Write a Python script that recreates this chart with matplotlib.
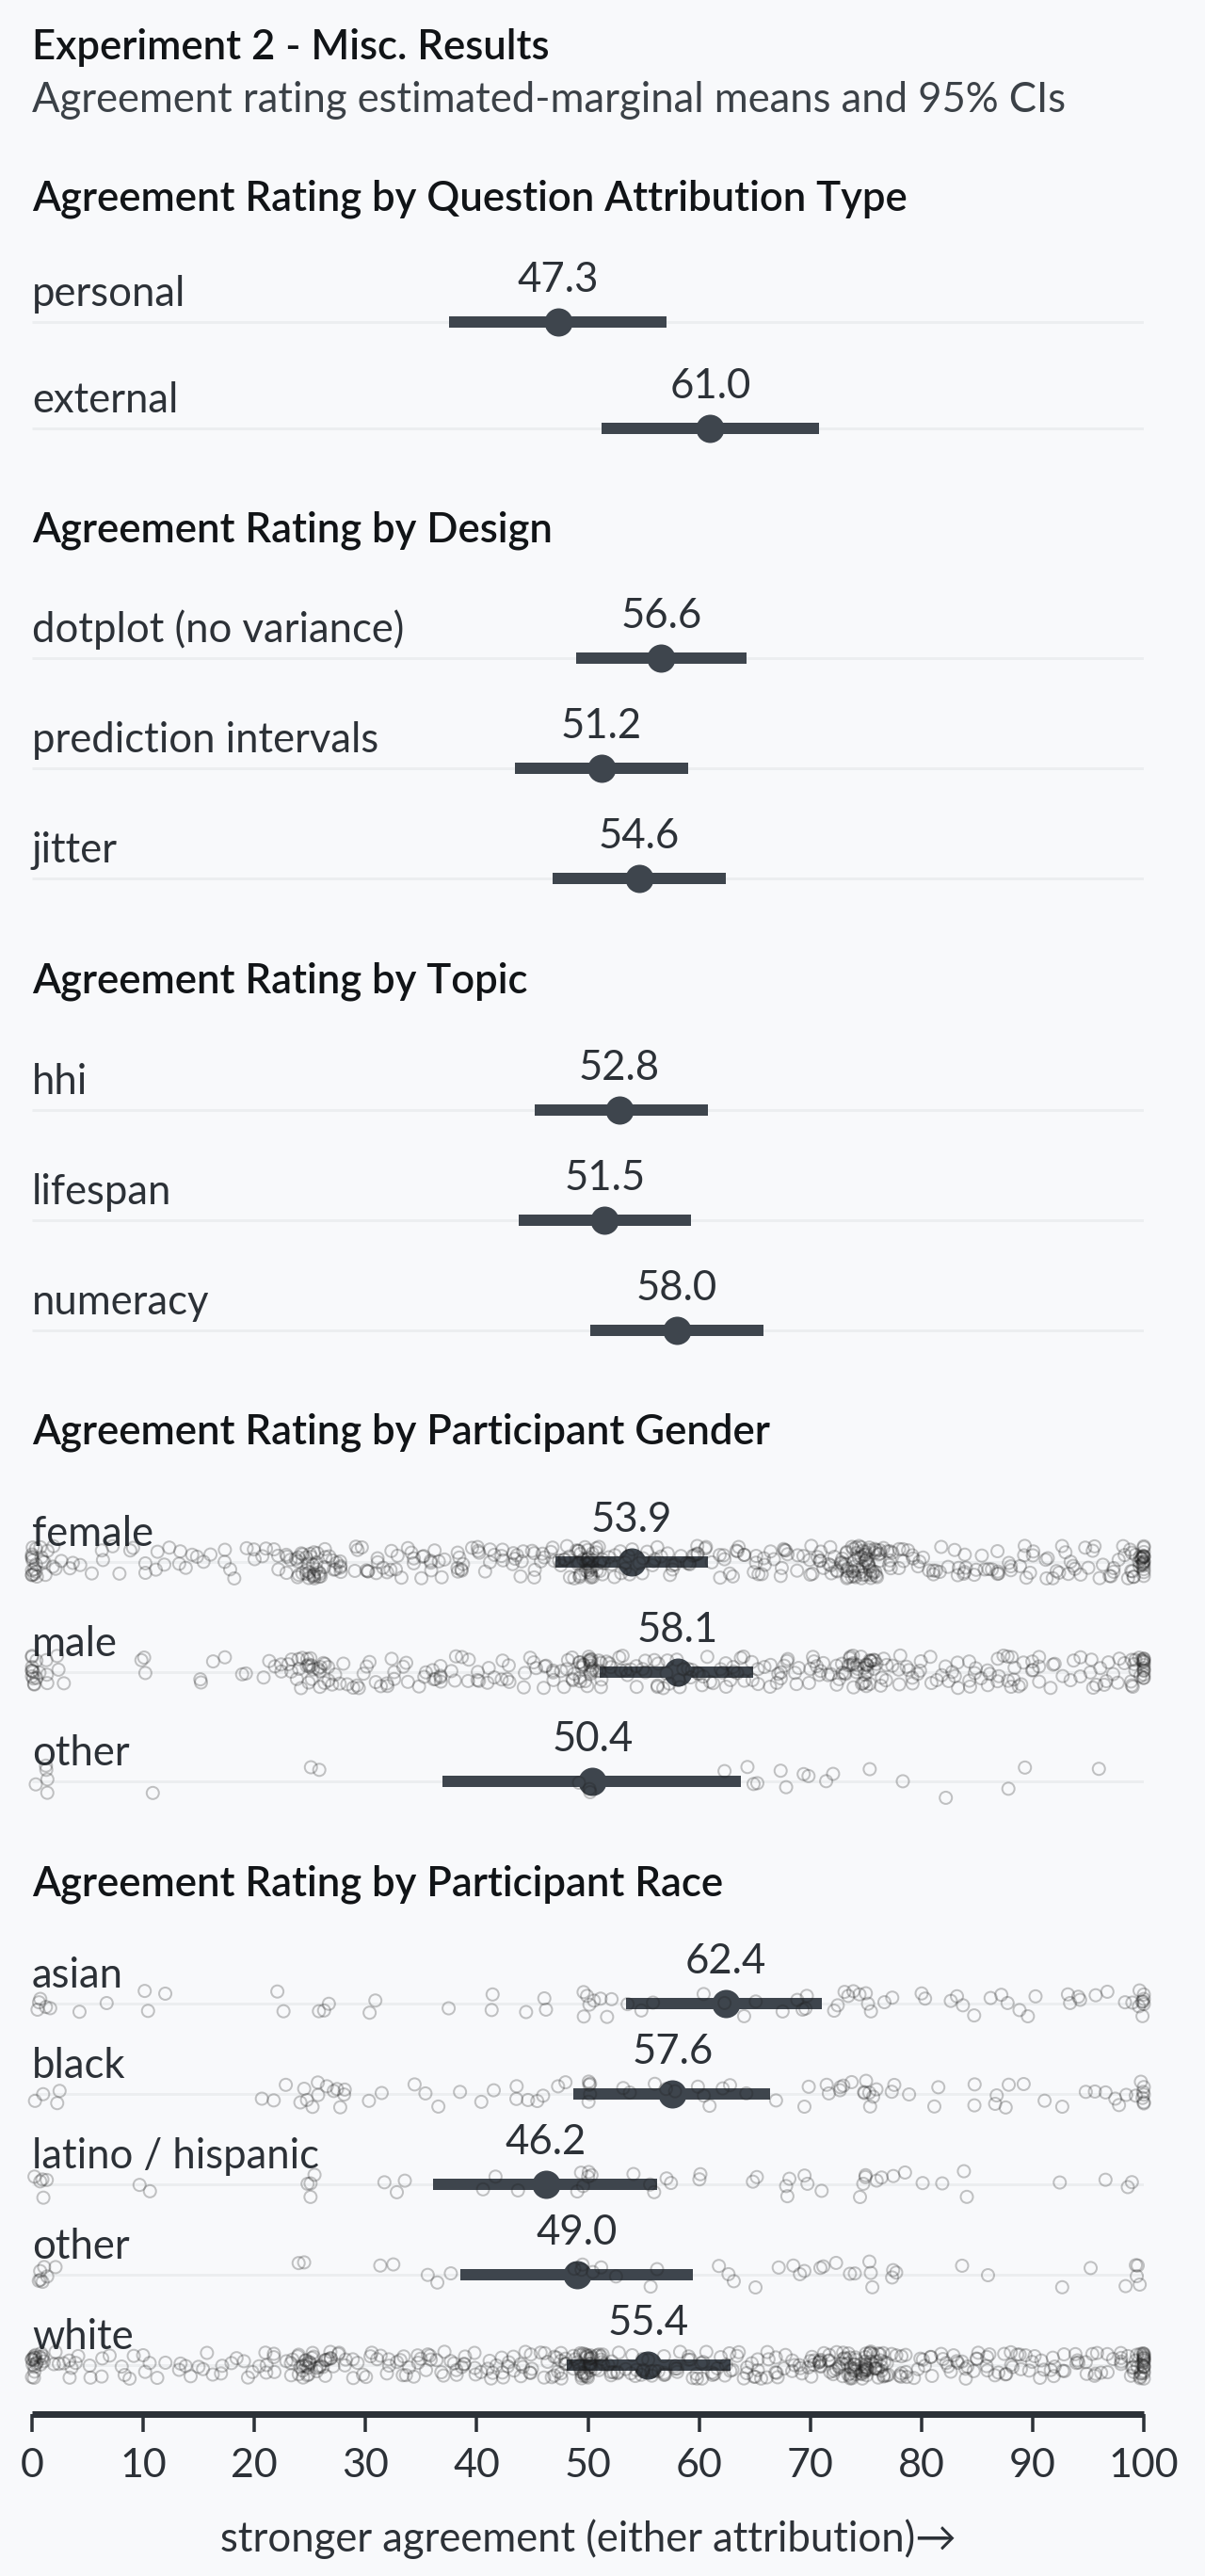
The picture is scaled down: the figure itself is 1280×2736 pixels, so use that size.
import matplotlib.pyplot as plt
import numpy as np

plt.rcParams['font.family'] = ['Lato', 'DejaVu Sans']

# ---- text ----
title = 'Experiment 2 - Misc. Results'
subtitle = 'Agreement rating estimated-marginal means and 95% CIs'
xlabel = 'stronger agreement (either attribution)\u2192'
ticks = [0, 10, 20, 30, 40, 50, 60, 70, 80, 90, 100]

# ---- estimated marginal means + 95% CI ----
attr_title = 'Agreement Rating by Question Attribution Type'
attr_labels = ['personal', 'external']
attr_mean = [47.3, 61.0]
attr_lo = [37.5, 51.2]
attr_hi = [57.1, 70.8]

design_title = 'Agreement Rating by Design'
design_labels = ['dotplot (no variance)', 'prediction intervals', 'jitter']
design_mean = [56.6, 51.2, 54.6]
design_lo = [48.9, 43.4, 46.8]
design_hi = [64.3, 59.0, 62.4]

topic_title = 'Agreement Rating by Topic'
topic_labels = ['hhi', 'lifespan', 'numeracy']
topic_mean = [52.8, 51.5, 58.0]
topic_lo = [45.2, 43.8, 50.2]
topic_hi = [60.8, 59.3, 65.8]

gender_title = 'Agreement Rating by Participant Gender'
gender_labels = ['female', 'male', 'other']
gender_mean = [53.9, 58.1, 50.4]
gender_lo = [47.1, 51.1, 36.9]
gender_hi = [60.8, 64.9, 63.8]

race_title = 'Agreement Rating by Participant Race'
race_labels = ['asian', 'black', 'latino / hispanic', 'other', 'white']
race_mean = [62.4, 57.6, 46.2, 49.0, 55.4]
race_lo = [53.4, 48.7, 36.1, 38.5, 48.1]
race_hi = [71.0, 66.4, 56.2, 59.4, 62.8]

# ---- raw ratings (value: count) ----
female_counts = {0: 14, 1: 6, 2: 3, 3: 2, 4: 2, 5: 1, 6: 2, 7: 1, 8: 1, 9: 2, 10: 2, 11: 2, 12: 2,
                 13: 2, 14: 2, 15: 2, 16: 1, 17: 2, 18: 2, 19: 1, 20: 2, 21: 2, 22: 3, 23: 4, 24: 8,
                 25: 14, 26: 10, 27: 5, 28: 4, 29: 3, 30: 4, 31: 3, 32: 4, 33: 3, 34: 4, 35: 3, 36: 4,
                 37: 3, 38: 4, 39: 3, 40: 4, 41: 3, 42: 4, 43: 3, 44: 4, 45: 4, 46: 3, 47: 4, 48: 6,
                 49: 10, 50: 20, 51: 9, 52: 4, 53: 4, 54: 3, 55: 4, 56: 4, 57: 3, 58: 4, 59: 4, 60: 4,
                 61: 3, 62: 4, 63: 4, 64: 3, 65: 4, 66: 4, 67: 3, 68: 4, 69: 3, 70: 4, 71: 5, 72: 7,
                 73: 11, 74: 14, 75: 22, 76: 12, 77: 7, 78: 4, 79: 3, 80: 3, 81: 4, 82: 3, 83: 3,
                 84: 4, 85: 3, 86: 3, 87: 4, 88: 3, 89: 4, 90: 3, 91: 3, 92: 3, 93: 4, 94: 3, 95: 3,
                 96: 3, 97: 4, 98: 3, 99: 8, 100: 22}
male_counts = {0: 12, 1: 4, 2: 2, 3: 1, 10: 3, 15: 2, 16: 1, 17: 1, 19: 2, 21: 2, 22: 3, 23: 3,
               24: 5, 25: 9, 26: 7, 27: 4, 28: 3, 29: 3, 30: 3, 31: 2, 32: 3, 33: 3, 34: 2, 35: 3,
               36: 3, 37: 4, 38: 3, 39: 3, 40: 3, 41: 2, 42: 3, 43: 3, 44: 2, 45: 3, 46: 3, 47: 3,
               48: 4, 49: 9, 50: 15, 51: 6, 52: 3, 53: 4, 54: 4, 55: 3, 56: 4, 57: 4, 58: 3, 59: 4,
               60: 4, 61: 3, 62: 4, 63: 4, 64: 3, 65: 4, 66: 3, 67: 4, 68: 3, 69: 3, 70: 4, 71: 4,
               72: 4, 73: 6, 74: 10, 75: 15, 76: 6, 77: 4, 78: 3, 79: 4, 80: 3, 81: 3, 82: 3, 83: 4,
               84: 3, 85: 3, 86: 3, 87: 4, 88: 6, 89: 3, 90: 3, 91: 3, 92: 3, 93: 2, 94: 3, 95: 3,
               96: 3, 97: 3, 98: 3, 99: 7, 100: 15}
gender_other_vals = [0, 1, 1, 1, 1, 11, 25, 26, 49, 50, 50, 62, 64, 65, 65, 67, 68, 69, 70, 71, 72,
                     75, 78, 82, 88, 89, 96]

asian_vals = [0.2, 0.6, 1.0, 1.5, 1.9, 4.5, 7, 10, 10.4, 11.7, 22.4, 22.4, 25.6, 26.2, 26.6, 30.4,
              30.8, 37.9, 41.1, 41.1, 44.5, 46.2, 46.5, 49.4, 49.8, 49.8, 49.8, 50.2, 50.9, 51.7, 52,
              53.7, 54.9, 56, 60.2, 62.7, 64.2, 65, 67.2, 68.4, 69.3, 69.4, 69.7, 72.5, 72.7, 73.2,
              73.5, 73.8, 74.3, 74.8, 75, 75.7, 76.3, 77.8, 79.7, 80.1, 82.2, 82.9, 83.5, 84.8, 86.6,
              87, 87.7, 88.6, 89.4, 90.1, 93.2, 93.6, 94.2, 94.2, 96, 96.9, 97.9,
              99, 99.5, 99.5, 100, 100, 100, 100, 100, 100]
black_vals = [0.2, 0.9, 2.3, 2.4, 21.1, 21.5, 22.5, 24.2, 24.6, 25, 25, 25.4, 25.9, 26.4, 26.8,
              27.2, 27.7, 28, 28.2, 30.4, 31.6, 34.2, 35.8, 36.7, 38.4, 40.1, 41.1, 43.3, 43.3, 45,
              45.8, 46.2, 47.1, 48.4, 50, 50, 50, 50, 50.3, 53.4, 53.6, 55.7, 56.8, 57.4, 59.6, 60.2,
              61, 62.5, 62.6, 64.2, 66.7, 69.3, 69.7, 71.5, 71.9, 72.6, 72.8, 73.3, 73.9, 74.9, 74.9,
              74.9, 75, 75, 75.6, 76.1, 77.4, 77.4, 78.7, 80.9, 81.2, 84.5, 84.8, 86.3, 86.7, 87.7,
              87.8, 89.2, 90.9, 92.4, 95.2, 95.6, 96.2, 97.2, 97.5, 98.6,
              99.3, 99.5, 100, 100, 100, 100, 100, 100]
latino_vals = [0.1, 0.4, 0.7, 1.0, 1.2, 9.8, 10.7, 25.2, 25.2, 25.2, 25.2, 31.6, 32.5, 33.1, 40.3,
               41.4, 44.1, 49.4, 49.8, 49.8, 49.8, 50, 50.2, 53.9, 55.4, 56.2, 57.1, 57.5, 59.8,
               59.8, 64.4, 64.9, 67.6, 68, 68.5, 69.3, 69.7, 70.8, 74.3, 74.8, 75, 75, 75.9, 76.5,
               77.8, 78.7, 79.7, 81.9, 83.7, 83.7, 92.6, 96.2, 99, 99]
race_other_vals = [0.3, 0.5, 0.8, 1.0, 1.3, 1.6, 1.9, 24.4, 24.4, 31.2, 32.3, 35.4, 36.7, 37.3, 49.2,
                   49.2, 49.2, 50, 50.9, 52.3, 55.7, 56.6, 61.6, 62.6, 62.9, 64.9, 67, 68.5, 69.3,
                   69.4, 71, 71.5, 72.5, 73.6, 73.6, 75.2, 75.2, 75.6, 77.1, 77.8, 77.8, 83.5, 85.8,
                   92.4, 94.9, 98.1, 99.3, 99.3, 99.3, 99.3]
white_counts = {0: 14, 1: 6, 2: 3, 3: 3, 4: 3, 5: 2, 6: 2, 7: 1, 8: 2, 9: 2, 10: 2, 11: 2, 12: 1,
                13: 2, 14: 2, 15: 2, 16: 2, 17: 2, 18: 2, 19: 2, 20: 2, 21: 3, 22: 3, 23: 4, 24: 7,
                25: 12, 26: 8, 27: 5, 28: 4, 29: 3, 30: 3, 31: 3, 32: 3, 33: 4, 34: 3, 35: 4, 36: 4,
                37: 3, 38: 4, 39: 4, 40: 4, 41: 4, 42: 4, 43: 4, 44: 4, 45: 4, 46: 4, 47: 5, 48: 7,
                49: 11, 50: 20, 51: 9, 52: 5, 53: 4, 54: 4, 55: 5, 56: 4, 57: 4, 58: 5, 59: 4, 60: 5,
                61: 4, 62: 4, 63: 4, 64: 4, 65: 5, 66: 4, 67: 4, 68: 4, 69: 4, 70: 6, 71: 7, 72: 8,
                73: 11, 74: 14, 75: 22, 76: 12, 77: 8, 78: 5, 79: 4, 80: 4, 81: 3, 82: 4, 83: 4,
                84: 4, 85: 4, 86: 4, 87: 3, 88: 5, 89: 4, 90: 3, 91: 3, 92: 4, 93: 3, 94: 4, 95: 3,
                96: 4, 97: 3, 98: 4, 99: 8, 100: 22}


def expand(counts):
    vals = []
    for v, c in counts.items():
        vals += [v] * c
    return vals


gender_raw = [expand(female_counts), expand(male_counts), gender_other_vals]
race_raw = [asian_vals, black_vals, latino_vals, race_other_vals, expand(white_counts)]

# ---- style / layout (pixels of a 1280 x 2736 canvas) ----
W, H = 1280, 2736
PT = 0.72  # points per pixel at dpi 100
BG = '#f8f9fb'
INK = '#2c3137'
DARK = '#111417'
BAR = '#3e454d'
GRID = '#eceef0'
X0, X1 = 34, 1215
FS = 31.4

panels = [
    (attr_title, attr_labels, attr_mean, attr_lo, attr_hi, None, 223, 342, 113),
    (design_title, design_labels, design_mean, design_lo, design_hi, None, 575, 699, 117),
    (topic_title, topic_labels, topic_mean, topic_lo, topic_hi, None, 1054, 1179, 117),
    (gender_title, gender_labels, gender_mean, gender_lo, gender_hi, gender_raw, 1534, 1659, 116.5),
    (race_title, race_labels, race_mean, race_lo, race_hi, race_raw, 2014, 2128, 96),
]
AXIS_Y = 2564


def spread(idx, a):
    # deterministic scatter in [-0.5, 0.5) used only to place jittered markers
    return (np.sin(idx * a) * 43758.5453) % 1 - 0.5


fig = plt.figure(figsize=(W / 100, H / 100), dpi=100, facecolor=BG)


def fy(px):
    return 1 - px / H


fig.text(X0 / W, fy(63), title, fontsize=FS, fontweight='semibold', color=DARK, va='baseline')
fig.text(X0 / W, fy(119), subtitle, fontsize=FS, color='#3b4147', va='baseline')

for k, (ptitle, labels, mean, lo, hi, raw, tbase, first, sp) in enumerate(panels):
    n = len(labels)
    top = first - sp * 0.5
    last = k == len(panels) - 1
    bottom = AXIS_Y if last else first + (n - 0.5) * sp
    ax = fig.add_axes([X0 / W, 1 - bottom / H, (X1 - X0) / W, (bottom - top) / H])
    ax.set_facecolor('none')
    ax.set_xlim(0, 100)
    ax.set_ylim((bottom - first) / sp, (top - first) / sp)

    fig.text(X0 / W, fy(tbase), ptitle, fontsize=FS, fontweight='semibold', color=DARK,
             va='baseline')

    for i in range(n):
        ax.plot([0, 100], [i, i], color=GRID, lw=3 * PT, zorder=1, solid_capstyle='butt')
        ax.plot([lo[i], hi[i]], [i, i], color=BAR, lw=12 * PT, zorder=3, solid_capstyle='butt')
        ax.plot(mean[i], i, 'o', ms=30 * PT, color=BAR, mec='none', zorder=4)
        ax.annotate(labels[i], (0, i), xytext=(0, 17 * PT), textcoords='offset points',
                    ha='left', va='baseline', fontsize=FS, color=INK)
        ax.annotate(f'{mean[i]:.1f}', (mean[i], i), xytext=(0, 32 * PT),
                    textcoords='offset points', ha='center', va='baseline',
                    fontsize=31.5, color=INK)
        if raw is not None:
            vals = np.array(raw[i], dtype=float)
            idx = np.arange(len(vals)) + 1.0 + 97 * k + 13 * i
            xj = np.clip(vals + spread(idx, 12.9898) * 0.9, 0, 100)
            yj = i + spread(idx, 78.233) * 0.3
            ax.scatter(xj, yj, s=(13 * PT) ** 2, facecolors='none',
                       edgecolors='#1e1e1e', linewidths=2 * PT, alpha=0.26, zorder=5,
                       clip_on=False)

    for s in ['top', 'right', 'left']:
        ax.spines[s].set_visible(False)
    ax.set_yticks([])
    if last:
        ax.spines['bottom'].set_linewidth(7 * PT)
        ax.spines['bottom'].set_color(INK)
        ax.spines['bottom'].set_capstyle('butt')
        ax.set_xticks(ticks)
        ax.tick_params(axis='x', length=19 * PT, width=3.5 * PT, color=INK, pad=12,
                       labelsize=31, labelcolor=INK)
    else:
        ax.spines['bottom'].set_visible(False)
        ax.set_xticks([])

fig.text((X0 + X1) / 2 / W, fy(2710), xlabel, fontsize=FS, color=INK, ha='center', va='baseline')

fig.savefig('out.png', dpi=100, facecolor=BG)
